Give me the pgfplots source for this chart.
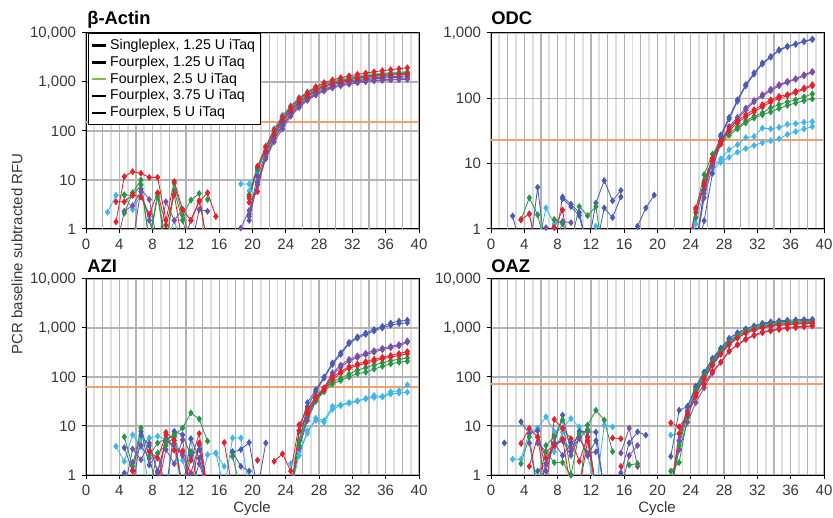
\documentclass[border=0pt]{standalone}
\usepackage{pgfplots}
\pgfplotsset{compat=1.18}
\usepackage{pgfplotstable}
\usepackage{fontspec}
\setmainfont{Liberation Sans}
\definecolor{cred}{RGB}{232,32,42}
\definecolor{cgreen}{RGB}{40,150,70}
\definecolor{clgreen}{RGB}{122,193,67}
\definecolor{ccyan}{RGB}{60,185,235}
\definecolor{cblue}{RGB}{72,92,180}
\definecolor{cpurple}{RGB}{120,80,168}
\definecolor{cthr}{RGB}{244,160,110}
\definecolor{ctick}{RGB}{55,55,55}

% beta-Actin
\pgfplotstableread{
n r1 r2 g1 g2 c1 c2 b1 b2 p1 p2
1 nan nan nan nan nan nan nan nan nan nan
2 nan nan nan nan 2.2 nan nan nan nan nan
3 1.4 3.6 nan nan 4.9 nan nan nan 0.4 nan
4 11.7 3.6 2.1 5 4.9 nan nan nan 2.3 nan
5 14.8 5 5.5 4.8 2.5 nan nan nan 3 0.5
6 13.7 4.5 10 8 5 nan nan nan 5.8 6.5
7 11.3 2 0.5 0.6 1.8 nan nan nan 1.5 4
8 11.3 5.5 4.6 5.2 0.4 nan nan nan 0.4 0.5
9 1.5 1.2 0.4 0.5 nan 0.5 nan nan 3.6 nan
10 9.3 5 8.5 6 nan 1.5 nan nan 1.5 nan
11 2.5 0.5 1.9 1.5 nan 0.4 nan nan 2.5 nan
12 1.5 1.5 3.9 0.4 nan nan nan nan 0.4 nan
13 3.6 3.8 5.3 nan nan nan nan nan 2.5 nan
14 5.5 0.5 0.4 4 nan nan nan nan 2.3 nan
15 1.8 nan nan nan nan nan nan nan nan nan
16 nan nan nan nan nan nan nan nan nan nan
17 nan nan nan nan nan nan nan nan nan nan
18 nan nan nan nan 8.3 nan nan nan 1.05 nan
19 4.6 3.5 5 4.2 8.3 6 2 1.5 2.4 1.8
20 19 5.8 18 16 15 17 12 9 8 9
21 48 38 45 40 50 46 35 30 27 30
22 105 85 95 88 112 100 80 70 60 68
23 195 165 180 165 210 190 150 135 110 125
24 313 265 290 270 330 300 250 225 200 215
25 466 390 430 400 480 440 370 340 300 320
26 606 520 570 530 630 590 500 460 420 440
27 800 680 740 690 790 740 640 590 540 560
28 970 820 880 820 930 880 770 710 650 680
29 1100 930 1000 940 1050 990 880 820 750 780
30 1220 1030 1100 1040 1160 1090 970 910 830 860
31 1330 1110 1190 1120 1250 1180 1050 990 900 930
32 1430 1180 1270 1200 1330 1260 1110 1050 960 990
33 1520 1240 1340 1270 1400 1320 1170 1110 1010 1040
34 1610 1300 1400 1330 1460 1380 1220 1160 1050 1080
35 1700 1350 1450 1380 1510 1430 1260 1200 1080 1110
36 1780 1390 1490 1420 1550 1470 1290 1230 1100 1130
37 1860 1420 1530 1460 1590 1510 1310 1250 1120 1150
38 1950 1440 1560 1500 1620 1540 1330 1270 1135 1170
}\tabA

% ODC
\pgfplotstableread{
n r1 r2 g1 g2 c1 c2 b1 b2 p1 p2
1 nan nan nan nan nan nan nan nan nan nan
2 nan nan nan nan nan nan 1.58 nan nan nan
3 1.4 nan 1.37 nan nan nan 0.5 nan nan nan
4 1.7 nan 3.0 nan 1.7 nan 0.4 nan nan nan
5 0.4 nan 1.65 nan 0.5 nan 4.35 nan nan nan
6 0.4 nan 0.5 nan 2.1 nan 0.4 nan 1.05 nan
7 1.05 nan 1.4 nan 1.2 nan 0.5 nan 0.5 nan
8 1.95 nan 1.2 nan 0.5 nan 3.1 2.9 1.3 nan
9 0.3 nan 0.6 nan nan nan 2.4 2.2 1.25 nan
10 nan nan 2.2 nan 1.8 nan 1.78 1.6 nan nan
11 nan nan 1.6 nan 0.5 nan 0.5 0.5 nan nan
12 nan nan 2.2 nan 1.1 nan 2.5 0.5 nan nan
13 nan nan 0.3 nan 0.3 nan 5.5 2.1 nan nan
14 nan nan nan nan nan nan 2.7 1.5 nan nan
15 nan nan nan nan nan nan 3.9 3.1 nan nan
16 nan nan nan nan nan nan nan nan nan nan
17 nan nan nan nan nan nan 1.1 nan nan nan
18 nan nan nan nan nan nan 2.1 nan nan nan
19 nan nan nan nan nan nan 3.3 nan nan nan
20 nan nan nan nan nan nan nan nan nan nan
21 nan nan nan nan nan nan nan nan nan nan
22 nan nan nan nan nan nan nan nan nan nan
23 0.4 0.5 0.5 0.4 0.4 0.4 nan nan nan nan
24 2.1 1.8 2 1.5 1.5 1.2 0.4 0.5 0.6 0.5
25 5 4.5 6.8 5.5 5 4 1.34 4 3.5 3
26 12 11 14 12 9 8 7.1 12 12 9
27 22 20 22 20 11.8 10.5 27.5 26 22 20
28 35 32 29.5 27 16.4 12.5 51 48 37 34
29 45 42 36 34 19.5 15 95 90 51 48
30 56 52 45 42 25 17 162 155 71 66
31 67 62 53 50 26 19 245 235 93 88
32 80 74 60 56 35 21 348 335 114 108
33 95 88 72 62 34 22.5 437 425 138 130
34 107 100 80 70 36 24 555 540 162 155
35 114 110 88 78 40 28 630 615 182 175
36 128 122 95 85 41 31 680 670 200 195
37 144 138 105 92 43 34 750 735 230 220
38 162 155 117 98 44 37 810 795 258 250
}\tabB

% AZI
\pgfplotstableread{
n r1 r2 g1 g2 c1 c2 b1 b2 p1 p2
1 nan nan nan nan nan nan nan nan nan nan
2 nan nan nan nan nan nan nan nan nan nan
3 nan nan nan nan 3.85 nan nan nan nan nan
4 nan nan 6.0 nan 1.9 nan 3.6 1.1 0.5 nan
5 1.25 nan 1.5 nan 6.6 nan 1.2 0.5 3.4 1.8
6 0.5 nan 9.1 nan 3.8 5.5 7.8 6.5 2.05 4
7 0.5 3 2.5 0.5 5.7 0.5 1.6 4 4.5 2.2
8 0.5 2.2 4.5 2.8 6.2 nan 2.8 1.2 1.1 0.5
9 7.4 6.5 5.5 4.0 5.4 0.5 0.5 5 4.9 3.3
10 5.1 3.2 6.5 6 3.5 6 7.8 6.8 4.2 1.7
11 0.5 3.1 9.1 0.5 0.5 2 6.6 0.5 2.5 5.2
12 2 0.5 18.5 3 5.4 0.5 2.5 5.5 1.1 0.5
13 7 4.5 13.9 0.5 0.5 nan 3.3 2.2 4.1 1.7
14 0.5 0.5 4.9 nan 2.6 nan 0.5 0.5 0.5 0.5
15 nan nan nan nan 2.8 2.8 nan nan nan nan
16 4.6 nan nan nan 0.5 1.5 nan nan nan nan
17 0.5 nan nan 2.4 5.7 nan 2.9 3 nan nan
18 nan nan nan 0.5 5.7 nan 3.3 1.5 nan nan
19 nan nan nan nan 0.5 nan 4.6 1.2 nan nan
20 2.0 nan nan nan nan nan 0.5 nan nan nan
21 nan nan nan nan nan nan 4.5 nan nan nan
22 1.9 nan nan nan nan nan nan nan nan nan
23 2.7 nan nan nan nan nan nan nan nan nan
24 1.2 0.5 0.5 0.5 1.7 0.5 0.3 0.5 0.5 0.5
25 10.6 8 5 4 3 2.5 8 5 4 3.5
26 22 18 20 17 7.1 8 30 25 15 13
27 40 36 38 33 14.5 13 55 50 35 32
28 60 55 55 50 13 12 100 95 60 56
29 100 90 80 72 25 22 194 180 122 110
30 130 120 94 85 27 26 310 290 175 160
31 162 150 115 100 30 29 510 480 229 210
32 185 172 138 118 33 32 660 620 270 250
33 205 190 155 125 36 36 790 740 305 285
34 230 212 175 145 42 38 930 870 345 320
35 252 235 195 165 40 39 1080 1000 385 360
36 275 255 215 185 50 45 1260 1140 420 395
37 300 275 230 200 52 47 1380 1230 460 430
38 330 300 245 210 69 49 1440 1280 545 510
}\tabC

% OAZ
\pgfplotstableread{
n r1 r2 g1 g2 c1 c2 b1 b2 p1 p2
1 nan nan nan nan nan nan 4.5 nan nan nan
2 nan nan nan nan 2.1 nan nan nan nan nan
3 4.4 nan 1.7 nan 2.1 nan 12.2 nan nan nan
4 8.9 1.5 6 nan 7.6 nan 7 nan 4.5 nan
5 6 6 0.5 nan 9 nan 8 1.2 0.5 4.5
6 0.5 2.2 4 3 15.4 nan 1.2 1.7 1.7 3
7 13.6 4 6 1.8 7.6 3 4.5 4.5 4.2 4
8 8.9 5.5 13.2 1.8 9 7.5 16.7 2.5 5.1 5
9 5.5 0.5 1.0 1 14.2 4.5 3 4.5 2.5 3.5
10 1.9 0.5 0.5 7 9.6 6 7.8 6 6 5.5
11 6 5 10.4 8 5.5 2.5 7.6 2.5 2.8 8.5
12 0.5 0.5 21 0.5 0.5 0.5 7.5 5 2.95 0.5
13 nan nan 13.2 nan 10.4 nan 0.5 0.5 nan nan
14 5.7 nan 3.0 nan 9.6 nan nan nan nan nan
15 5.5 1.5 nan nan nan nan 1.1 nan 2.8 0.5
16 nan nan 1.6 nan nan nan 4.5 nan 9 2.5
17 nan nan 1.7 nan nan nan 7.6 nan 1.5 4
18 nan nan nan nan nan nan 6.5 nan nan nan
19 nan nan nan nan nan nan nan nan nan nan
20 nan nan nan nan nan nan nan nan nan nan
21 11.6 0.5 1.2 0.5 6.5 nan 2.4 0.5 0.5 0.5
22 9.6 7 1.8 4 7 5 21 5 3.3 5
23 16.7 18 15 17 22 20 25 25 12 20
24 40 45 55 50 60 55 60 65 30 45
25 70 95 110 100 115 110 125 125 60 90
26 130 180 210 190 220 205 230 240 120 170
27 200 300 340 320 350 330 365 390 200 290
28 340 470 520 500 560 530 615 600 330 450
29 450 630 700 680 730 700 780 800 460 620
30 580 790 860 840 890 860 940 960 600 780
31 700 920 1000 970 1030 1000 1100 1090 720 900
32 800 1020 1100 1070 1150 1110 1250 1190 830 1000
33 870 1090 1180 1140 1230 1190 1340 1270 910 1080
34 930 1140 1240 1200 1290 1250 1400 1330 970 1130
35 980 1180 1280 1240 1330 1290 1440 1370 1020 1170
36 1020 1210 1310 1270 1360 1320 1470 1400 1060 1200
37 1060 1230 1330 1290 1380 1340 1490 1420 1090 1220
38 1100 1250 1350 1310 1400 1360 1510 1440 1110 1230
}\tabD

\newcommand{\onecurve}[3]{\addplot[#1, mark=diamond*, forget plot] table[x expr=\thisrow{n}+0.6, y=#2]{#3};}
\newcommand{\curves}[1]{%
  \onecurve{ccyan}{c1}{#1}\onecurve{ccyan}{c2}{#1}%
  \onecurve{cblue}{b1}{#1}\onecurve{cblue}{b2}{#1}%
  \onecurve{cpurple}{p1}{#1}\onecurve{cpurple}{p2}{#1}%
  \onecurve{cgreen}{g1}{#1}\onecurve{cgreen}{g2}{#1}%
  \onecurve{cred}{r1}{#1}\onecurve{cred}{r2}{#1}%
}

\pgfplotsset{
  qpcrbase/.style={
    width=199.8pt, height=117.6pt, scale only axis,
    anchor=south west,
    xmin=0, xmax=40, ymin=1,
    xtick={0,4,...,40},
    xticklabels={0,4,8,12,16,20,24,28,32,36,40},
    minor xtick={1,3,...,39},
    extra x ticks={2,6,...,38},
    extra x tick labels={},
    extra x tick style={grid=major, major tick length=0pt},
    xmajorgrids, xminorgrids, ymajorgrids, yminorticks=false,
    major grid style={black!30, line width=0.75pt},
    minor grid style={black!13, line width=1.1pt},
    minor tick length=0pt,
    tick align=outside,
    major tick length=2.5pt,
    xtick pos=bottom, ytick pos=left,
    axis line style={black, line width=0.6pt},
    tick style={black, line width=0.6pt},
    ticklabel style={font=\fontsize{9}{10}\selectfont, text=ctick},
    unbounded coords=jump,
    every axis plot/.append style={line width=0.5pt, mark size=1.7pt},
  },
  qpcrfour/.style={ymax=10000, ytick={1,10,100,1000,10000}, yticklabels={1,10,100,{1,000},{10,000}}},
  qpcrthree/.style={ymax=1000, ytick={1,10,100,1000}, yticklabels={1,10,100,{1,000}}},
}

\begin{document}
\begin{tikzpicture}
\path[use as bounding box] (0,0) rectangle (499.8pt,310.2pt);

\begin{axis}[ymode=log, qpcrbase, qpcrfour, at={(51.6pt,172.8pt)},
  legend style={at={(0.006,1)}, anchor=north west, draw=black, line width=0.6pt, fill=white,
    font=\fontsize{8.5}{10}\selectfont, inner sep=1.5pt, row sep=-1.6pt, cells={anchor=west}},
  legend image code/.code={\draw[line width=1.5pt,#1] (0pt,0pt) -- (8pt,0pt);}]
\addlegendimage{black}\addlegendentry{Singleplex, 1.25 U iTaq}
\addlegendimage{black}\addlegendentry{Fourplex, 1.25 U iTaq}
\addlegendimage{clgreen}\addlegendentry{Fourplex, 2.5 U iTaq}
\addlegendimage{black}\addlegendentry{Fourplex, 3.75 U iTaq}
\addlegendimage{black}\addlegendentry{Fourplex, 5 U iTaq}
\addplot[cthr, line width=1.3pt, forget plot] coordinates {(0,155) (40,155)};
\curves{\tabA}
\end{axis}

\begin{axis}[ymode=log, qpcrbase, qpcrthree, at={(294.6pt,172.8pt)}]
\addplot[cthr, line width=1.3pt, forget plot] coordinates {(0,23) (40,23)};
\curves{\tabB}
\end{axis}

\begin{axis}[ymode=log, qpcrbase, qpcrfour, at={(51.6pt,25.2pt)}]
\addplot[cthr, line width=1.3pt, forget plot] coordinates {(0,62) (40,62)};
\curves{\tabC}
\end{axis}

\begin{axis}[ymode=log, qpcrbase, qpcrfour, at={(294.6pt,25.2pt)}]
\addplot[cthr, line width=1.3pt, forget plot] coordinates {(0,72) (40,72)};
\curves{\tabD}
\end{axis}

\begin{scope}[every node/.style={anchor=base west, inner sep=0pt, font=\bfseries\fontsize{11}{12}\selectfont}]
\node at (52.2pt,295.2pt) {β-Actin};
\node at (294.6pt,295.2pt) {ODC};
\node at (52.2pt,146.4pt) {AZI};
\node at (294.6pt,146.4pt) {OAZ};
\end{scope}

\node[rotate=90, font=\fontsize{9}{10}\selectfont, text=ctick] at (10.2pt,157.8pt) {PCR baseline subtracted RFU};
\node[anchor=base, font=\fontsize{9}{10}\selectfont, text=ctick] at (151.2pt,3pt) {Cycle};
\node[anchor=base, font=\fontsize{9}{10}\selectfont, text=ctick] at (394.2pt,3pt) {Cycle};
\end{tikzpicture}
\end{document}
